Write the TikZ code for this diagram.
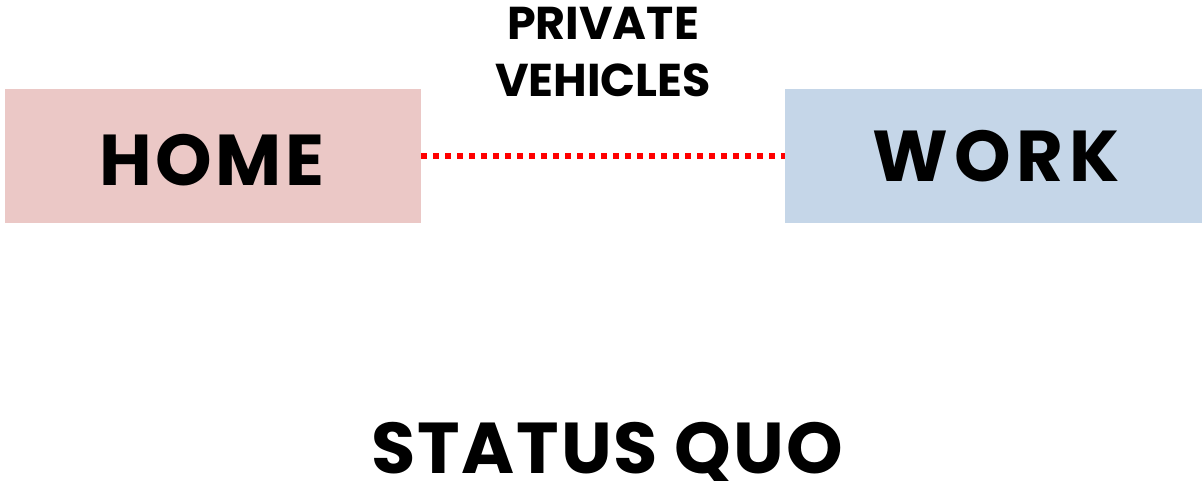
\documentclass[tikz,border=0pt]{standalone}
\usepackage{fontspec}
\setmainfont{Poppins}[UprightFont=* Bold, BoldFont=* Bold]
\newfontfamily\homefont{Poppins}[UprightFont=* Bold, LetterSpace=5]
\newfontfamily\workfont{Poppins}[UprightFont=* Bold, LetterSpace=8]
\newfontfamily\sqfont{Poppins}[UprightFont=* Bold, LetterSpace=2.5]
\definecolor{homefill}{HTML}{EBC8C6}
\definecolor{workfill}{HTML}{C5D6E8}
\begin{document}
\begin{tikzpicture}[x=1pt,y=-1pt,
  place/.style={inner sep=0pt, outer sep=0pt, minimum width=416pt, minimum height=134pt, anchor=north west},
  big/.style={font=\fontsize{72}{72}\selectfont},
  mid/.style={font=\fontsize{46}{57}\selectfont, align=center},
  link/.style={draw=red, line width=6pt, dash pattern=on 6pt off 6pt}]
\useasboundingbox (0,0) rectangle (1202,481);
\node[place, fill=homefill] (home) at (5,89) {};
\node[place, fill=workfill, minimum width=417pt] (work) at (785,89) {};
\node[big, anchor=base] (homet) at (212,186) {\homefont HOME};
\node[big, anchor=base] (workt) at (996,182) {\workfont WORK};
\node[mid, anchor=north] (priv) at (603,4) {PRIVATE\\VEHICLES};
\node[big, anchor=base, text depth=0pt] (sq) at (607,473) {\sqfont STATUS QUO};
\draw[link] (home.east) -- (work.west);
\end{tikzpicture}
\end{document}
